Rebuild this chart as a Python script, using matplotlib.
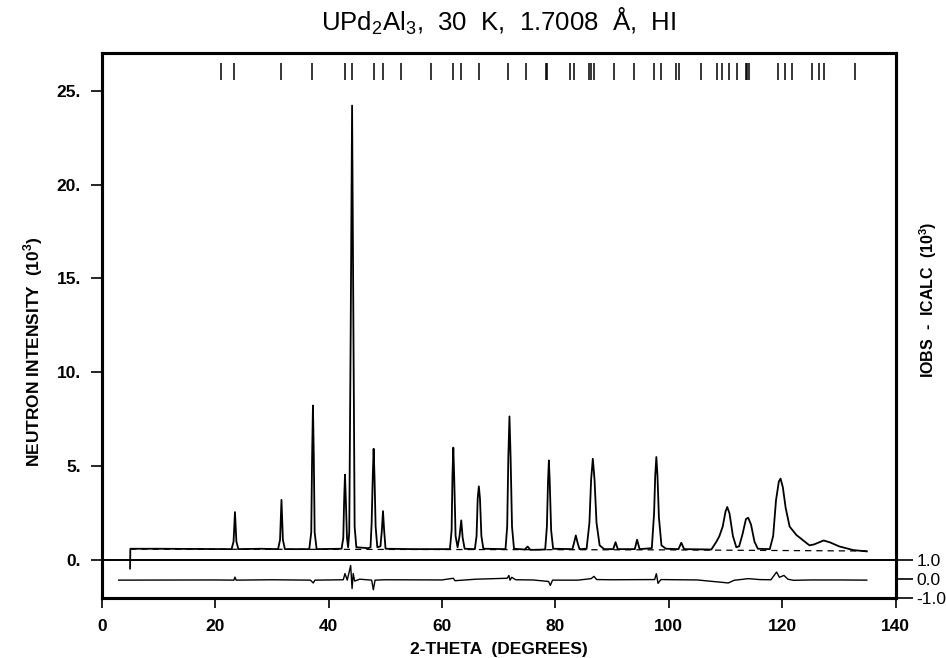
import matplotlib
matplotlib.use("Agg")
import matplotlib.pyplot as plt

plt.rcParams['font.family'] = ['Liberation Sans', 'DejaVu Sans']
plt.rcParams['mathtext.fontset'] = 'custom'
plt.rcParams['mathtext.rm'] = 'Liberation Sans'

# ---------------- data (10^3 counts) ----------------
obs_x = [5.0, 5.05, 10.0, 20.0, 22.9, 23.25, 23.4, 23.5, 23.6, 23.75, 24.1,
         28.0, 31.1, 31.45, 31.6, 31.7, 31.8, 31.95, 32.3,
         36.6, 36.95, 37.1, 37.25, 37.4, 37.55, 37.9,
         42.3, 42.6, 42.75, 42.9, 43.05, 43.25, 43.45, 43.65, 43.9, 44.15, 44.4, 44.6, 44.9,
         47.0, 47.4, 47.6, 47.8, 47.95, 48.1, 48.3, 48.6, 49.15, 49.4, 49.6, 49.8, 50.05,
         55.0, 61.4, 61.7, 61.85, 62.0, 62.15, 62.4, 62.75, 63.1, 63.4, 63.65, 64.0,
         65.8, 66.1, 66.3, 66.5, 66.7, 66.95, 67.3,
         71.2, 71.5, 71.7, 71.9, 72.1, 72.35, 72.7,
         74.6, 75.1, 75.6,
         78.2, 78.5, 78.7, 78.85, 79.0, 79.25, 79.6,
         83.0, 83.3, 83.6, 83.9, 84.25,
         85.5, 86.0, 86.3, 86.6, 86.9, 87.25, 87.8, 88.6,
         90.2, 90.6, 91.0, 94.0, 94.4, 94.85,
         97.0, 97.4, 97.6, 97.8, 98.0, 98.25, 98.7, 99.5,
         101.7, 102.2, 102.7,
         107.5, 108.4, 108.9, 109.5, 110.0, 110.3, 110.7, 111.3, 111.9,
         112.4, 113.0, 113.6, 114.0, 114.5, 115.1, 115.7,
         117.8, 118.4, 118.9, 119.4, 119.7, 120.1, 120.6, 121.3, 122.5, 124.8,
         125.6, 127.3, 128.5, 130.0, 132.5, 134.9]
obs_y = [-0.43, 0.62, 0.62, 0.60, 0.60, 1.00, 1.90, 2.57, 1.90, 1.00, 0.60,
         0.62, 0.60, 1.10, 2.30, 3.22, 2.30, 1.10, 0.60,
         0.60, 1.50, 5.50, 8.24, 5.50, 1.50, 0.60,
         0.62, 1.20, 3.20, 4.56, 3.20, 1.20, 0.70, 1.50, 12.0, 24.2, 12.0, 1.80, 0.70,
         0.65, 0.70, 2.00, 4.50, 5.94, 4.50, 1.80, 0.70, 0.75, 1.60, 2.62, 1.60, 0.62,
         0.60, 0.60, 1.60, 4.50, 6.00, 4.50, 1.30, 0.70, 1.30, 2.13, 1.20, 0.62,
         0.60, 1.30, 3.30, 3.94, 3.30, 1.30, 0.62,
         0.60, 1.80, 5.50, 7.66, 5.50, 1.80, 0.62,
         0.58, 0.74, 0.56,
         0.58, 1.80, 4.20, 5.32, 4.20, 1.60, 0.62,
         0.60, 0.95, 1.33, 0.95, 0.60,
         0.62, 2.00, 4.30, 5.41, 4.30, 2.00, 0.80, 0.60,
         0.60, 0.97, 0.60, 0.60, 1.10, 0.60,
         0.65, 2.50, 4.50, 5.50, 4.50, 2.30, 0.80, 0.62,
         0.60, 0.94, 0.60,
         0.58, 1.00, 1.28, 1.80, 2.60, 2.84, 2.50, 1.30, 0.70,
         0.75, 1.40, 2.20, 2.27, 1.90, 1.00, 0.62,
         0.60, 1.30, 3.20, 4.20, 4.35, 3.90, 2.80, 1.80, 1.35, 0.80,
         0.85, 1.06, 0.95, 0.75, 0.55, 0.48]

bkg_x = [5.0, 60.0, 100.0, 135.0]
bkg_y = [0.60, 0.58, 0.56, 0.50]

res_x = [3.0, 20.0, 23.3, 23.5, 23.7, 30.0, 36.8, 37.3, 37.6, 42.6, 42.9, 43.3,
         43.9, 44.15, 44.35, 44.6, 45.5, 47.6, 47.9, 48.2, 50.0, 60.0, 62.0, 62.3,
         66.0, 71.5, 71.8, 72.0, 72.3, 73.0, 76.0, 78.8, 79.1, 79.5, 84.0, 86.3,
         86.8, 87.3, 90.0, 97.5, 97.8, 98.1, 98.6, 105.0, 110.5, 111.5, 114.0,
         116.0, 118.0, 119.0, 119.5, 120.3, 121.0, 122.0, 125.0, 130.0, 134.9]
res_y = [-0.05, -0.04, -0.05, 0.11, -0.05, -0.03, -0.05, -0.20, -0.05, -0.03, 0.30, -0.05,
         0.73, -0.50, 0.30, -0.10, 0.00, -0.05, -0.56, -0.05, -0.03, -0.04, 0.05, -0.08,
         0.00, 0.05, 0.20, -0.05, 0.10, -0.03, -0.04, -0.12, -0.33, -0.05, -0.05, 0.03,
         0.15, -0.02, -0.03, -0.02, 0.29, -0.22, -0.02, -0.04, -0.20, -0.06, 0.03,
         -0.02, -0.03, 0.38, 0.10, 0.20, 0.00, -0.06, -0.04, -0.04, -0.05]

refl_x = [21.0, 23.4, 31.6, 37.1, 42.9, 44.2, 48.0, 49.6, 52.8, 58.0, 61.9, 63.4,
          66.5, 71.7, 74.9, 78.3, 78.6, 82.5, 83.3, 85.9, 86.3, 86.8, 90.4, 93.9,
          97.4, 98.6, 101.2, 101.8, 105.7, 108.5, 109.4, 110.6, 112.1, 113.6, 113.8,
          114.2, 119.3, 120.5, 121.8, 125.3, 126.5, 127.4, 132.8]

x_ticks = [0, 20, 40, 60, 80, 100, 120, 140]
y_ticks = [0, 5, 10, 15, 20, 25]
y_tick_labels = ['0.', '5.', '10.', '15.', '20.', '25.']
r_ticks = [1.0, 0.0, -1.0]
r_tick_labels = ['1.0', '0.0', '-1.0']
res_offset = -1.0

# ---------------- figure ----------------
fig = plt.figure(figsize=(9.46, 6.58), dpi=100)
ax = fig.add_axes([0.1075, 0.0912, 0.8393, 0.8283])
ax.set_xlim(0, 140)
ax.set_ylim(-2, 27)

ax.axhline(0, color='black', lw=1.4, zorder=3)
ax.plot(bkg_x, bkg_y, color='black', lw=0.9, ls=(0, (5, 4)), zorder=2)
ax.plot(obs_x, obs_y, color='black', lw=1.3, zorder=4)
ax.plot(res_x, [r + res_offset for r in res_y], color='black', lw=1.0, zorder=4)
ax.vlines(refl_x, 25.55, 26.45, color='black', lw=1.1)

for s in ax.spines.values():
    s.set_linewidth(2.2)

ax.set_xticks(x_ticks)
ax.set_xticklabels([str(v) for v in x_ticks])
ax.set_yticks(y_ticks)
ax.set_yticklabels(y_tick_labels)
ax.tick_params(axis='x', direction='out', length=7, width=1.2, pad=8, labelsize=12.5)
ax.tick_params(axis='y', direction='out', length=8, width=1.2, pad=7, labelsize=12.5)
for lab in ax.get_xticklabels() + ax.get_yticklabels():
    lab.set_fontweight('bold')

ax2 = ax.twinx()
ax2.set_ylim(-2, 27)
ax2.set_yticks([r + res_offset for r in r_ticks])
ax2.set_yticklabels(r_tick_labels)
ax2.tick_params(axis='y', direction='out', length=12, width=1.2, pad=3, labelsize=12.5)
for s in ax2.spines.values():
    s.set_linewidth(2.2)

ax.set_xlabel('2-THETA  (DEGREES)', fontsize=12.5, fontweight='bold', labelpad=6)
fig.text(0.035, 0.465, 'NEUTRON INTENSITY  (10$^\\mathregular{3}$)', rotation=90,
         ha='center', va='center', fontsize=12.5, fontweight='bold')
fig.text(0.981, 0.545, 'IOBS  -  ICALC  (10$^\\mathregular{3}$)', rotation=90,
         ha='center', va='center', fontsize=11.5, fontweight='bold')
fig.text(0.527, 0.968, 'UPd$_\\mathregular{2}$Al$_\\mathregular{3}$,  30  K,  1.7008  Å,  HI',
         ha='center', va='center', fontsize=18.5)

fig.savefig('out.png', dpi=100)
